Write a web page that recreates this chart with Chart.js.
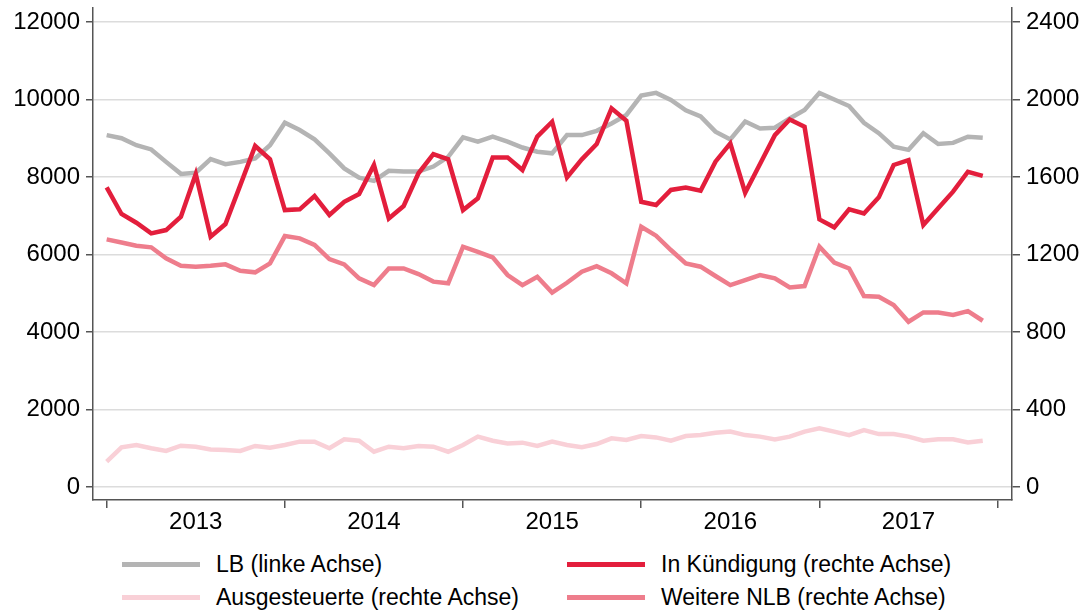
<!DOCTYPE html>
<html>
<head>
<meta charset="utf-8">
<script src="https://cdn.jsdelivr.net/npm/chart.js@4.4.0/dist/chart.umd.min.js"></script>
<style>
  body { margin: 0; background: #fff; font-family: "Liberation Sans", Arial, sans-serif; }
  #wrap { position: relative; width: 1089px; height: 614px; }
  #box { position: absolute; left: 0; top: 0; width: 1089px; height: 545px; }
  #legend { position: absolute; left: 122px; top: 548px; display: grid;
            grid-template-columns: 445px 445px; grid-auto-rows: 33px; }
  .item { display: flex; align-items: center; font-size: 23px; color: #000; }
  .swatch { width: 78px; height: 5px; margin-right: 16px; }
</style>
</head>
<body>
<div id="wrap">
  <div id="box"><canvas id="chart"></canvas></div>
  <div id="legend"></div>
</div>
<script>
// monthly values, Jan 2013 - Dec 2017
const years = ['2013', '2014', '2015', '2016', '2017'];

// LB, left axis
const lb = [9080, 9000, 8820, 8710, 8390, 8080, 8110, 8460, 8330, 8390, 8480, 8820,
            9400, 9210, 8970, 8610, 8220, 7980, 7900, 8160, 8140, 8140, 8270, 8520,
            9020, 8910, 9040, 8910, 8760, 8650, 8610, 9080, 9080, 9190, 9380, 9600,
            10100, 10170, 9990, 9720, 9560, 9170, 8970, 9430, 9250, 9270, 9510, 9730,
            10170, 10000, 9830, 9400, 9130, 8780, 8700, 9130, 8850, 8880, 9040, 9010];

// right axis
const kuendigung = [1546, 1409, 1364, 1309, 1326, 1395, 1615, 1292, 1357, 1558, 1760, 1691,
                    1429, 1433, 1502, 1404, 1472, 1512, 1662, 1386, 1450, 1619, 1718, 1691,
                    1429, 1490, 1701, 1701, 1636, 1808, 1885, 1598, 1691, 1770, 1954, 1890,
                    1472, 1455, 1533, 1546, 1529, 1679, 1773, 1519, 1667, 1816, 1897, 1859,
                    1381, 1340, 1433, 1412, 1495, 1662, 1687, 1352, 1438, 1524, 1627, 1606];

const ausgesteuert = [131, 205, 217, 200, 186, 213, 208, 194, 191, 186, 212, 203,
                      217, 234, 234, 200, 246, 239, 182, 208, 200, 212, 208, 182,
                      217, 260, 239, 225, 229, 212, 234, 217, 205, 222, 251, 243,
                      263, 256, 239, 263, 268, 280, 286, 268, 260, 246, 260, 286,
                      303, 286, 268, 294, 273, 273, 260, 239, 246, 246, 230, 239];

const weitereNlb = [1278, 1262, 1245, 1237, 1180, 1142, 1137, 1142, 1149, 1116, 1108, 1154,
                    1295, 1283, 1249, 1176, 1149, 1077, 1042, 1128, 1128, 1099, 1060, 1051,
                    1240, 1214, 1185, 1094, 1042, 1085, 1003, 1054, 1111, 1140, 1103, 1051,
                    1343, 1297, 1223, 1154, 1137, 1089, 1042, 1068, 1094, 1077, 1030, 1037,
                    1240, 1158, 1128, 986, 982, 939, 853, 901, 900, 888, 908, 858];

const leftTicks = [0, 2000, 4000, 6000, 8000, 10000, 12000];
const rightTicks = [0, 400, 800, 1200, 1600, 2000, 2400];

function pts(arr){
    return arr.map((v, i) => ({x: i, y: v}));
}

const axisColor = '#555';
const gridColor = '#dcdcdc';
const tickFont = {family: '"Liberation Sans", Arial, sans-serif', size: 24};

const ctx = document.getElementById('chart');

let chart = new Chart(ctx, {
    type: 'line',
    data: {
        datasets: [{
            label: 'LB (linke Achse)',
            data: pts(lb),
            borderColor: '#b4b4b4',
            backgroundColor: '#b4b4b4',
            yAxisID: 'y',
            order: 1
        }, {
            label: 'In Kündigung (rechte Achse)',
            data: pts(kuendigung),
            borderColor: '#e31e3c',
            backgroundColor: '#e31e3c',
            yAxisID: 'y1',
            order: 0
        }, {
            label: 'Ausgesteuerte (rechte Achse)',
            data: pts(ausgesteuert),
            borderColor: '#f9d0d7',
            backgroundColor: '#f9d0d7',
            yAxisID: 'y1',
            order: 2
        }, {
            label: 'Weitere NLB (rechte Achse)',
            data: pts(weitereNlb),
            borderColor: '#ee7d8c',
            backgroundColor: '#ee7d8c',
            yAxisID: 'y1',
            order: 2
        }]
    },
    options: {
        responsive: true,
        maintainAspectRatio: false,
        animation: false,
        layout: {padding: {top: 8, left: 0, right: 0, bottom: 0}},
        elements: {
            line: {borderWidth: 4.5, tension: 0, fill: false},
            point: {radius: 0, hoverRadius: 0}
        },
        plugins: {
            legend: {display: false},
            tooltip: {enabled: false}
        },
        scales: {
            x: {
                type: 'linear',
                min: -0.92,
                max: 60.97,
                afterBuildTicks: (scale) => {
                    let t = [];
                    for(let v = 0; v <= 60; v += 6){ t.push({value: v}); }
                    scale.ticks = t;
                },
                afterFit: (scale) => {
                    scale.height = 45;
                    scale.paddingLeft = 0;
                    scale.paddingRight = 0;
                },
                ticks: {
                    autoSkip: false,
                    maxRotation: 0,
                    padding: 0,
                    color: '#000',
                    font: tickFont,
                    callback: (v) => (v % 12 === 6 ? years[(v - 6) / 12] : '')
                },
                grid: {
                    drawOnChartArea: false,
                    tickLength: 8,
                    lineWidth: 1.5,
                    tickColor: (c) => (c.tick && c.tick.value % 12 === 0 ? axisColor : 'rgba(0,0,0,0)')
                },
                border: {color: axisColor, width: 1.5}
            },
            y: {
                position: 'left',
                min: -335,
                max: 12360,
                afterBuildTicks: (scale) => { scale.ticks = leftTicks.map(v => ({value: v})); },
                afterFit: (scale) => {
                    scale.width = 93;
                    scale.paddingTop = 0;
                    scale.paddingBottom = 0;
                },
                ticks: {color: '#000', font: tickFont, padding: 6, callback: (v) => String(v)},
                grid: {color: gridColor, lineWidth: 1.5, tickLength: 7, tickColor: axisColor},
                border: {color: axisColor, width: 1.5}
            },
            y1: {
                position: 'right',
                min: -67,
                max: 2472,
                afterBuildTicks: (scale) => { scale.ticks = rightTicks.map(v => ({value: v})); },
                afterFit: (scale) => {
                    scale.width = 77;
                    scale.paddingTop = 0;
                    scale.paddingBottom = 0;
                },
                ticks: {color: '#000', font: tickFont, padding: 6, callback: (v) => String(v)},
                grid: {drawOnChartArea: false, lineWidth: 1.5, tickLength: 8, color: axisColor},
                border: {color: axisColor, width: 1.5}
            }
        }
    }
});

// legend in two columns like the original
let legend = document.getElementById('legend');
chart.data.datasets.forEach(ds => {
    let item = document.createElement('div');
    item.className = 'item';
    item.innerHTML = `<span class="swatch" style="background:${ds.borderColor}"></span><span>${ds.label}</span>`;
    legend.appendChild(item);
});
</script>
</body>
</html>
